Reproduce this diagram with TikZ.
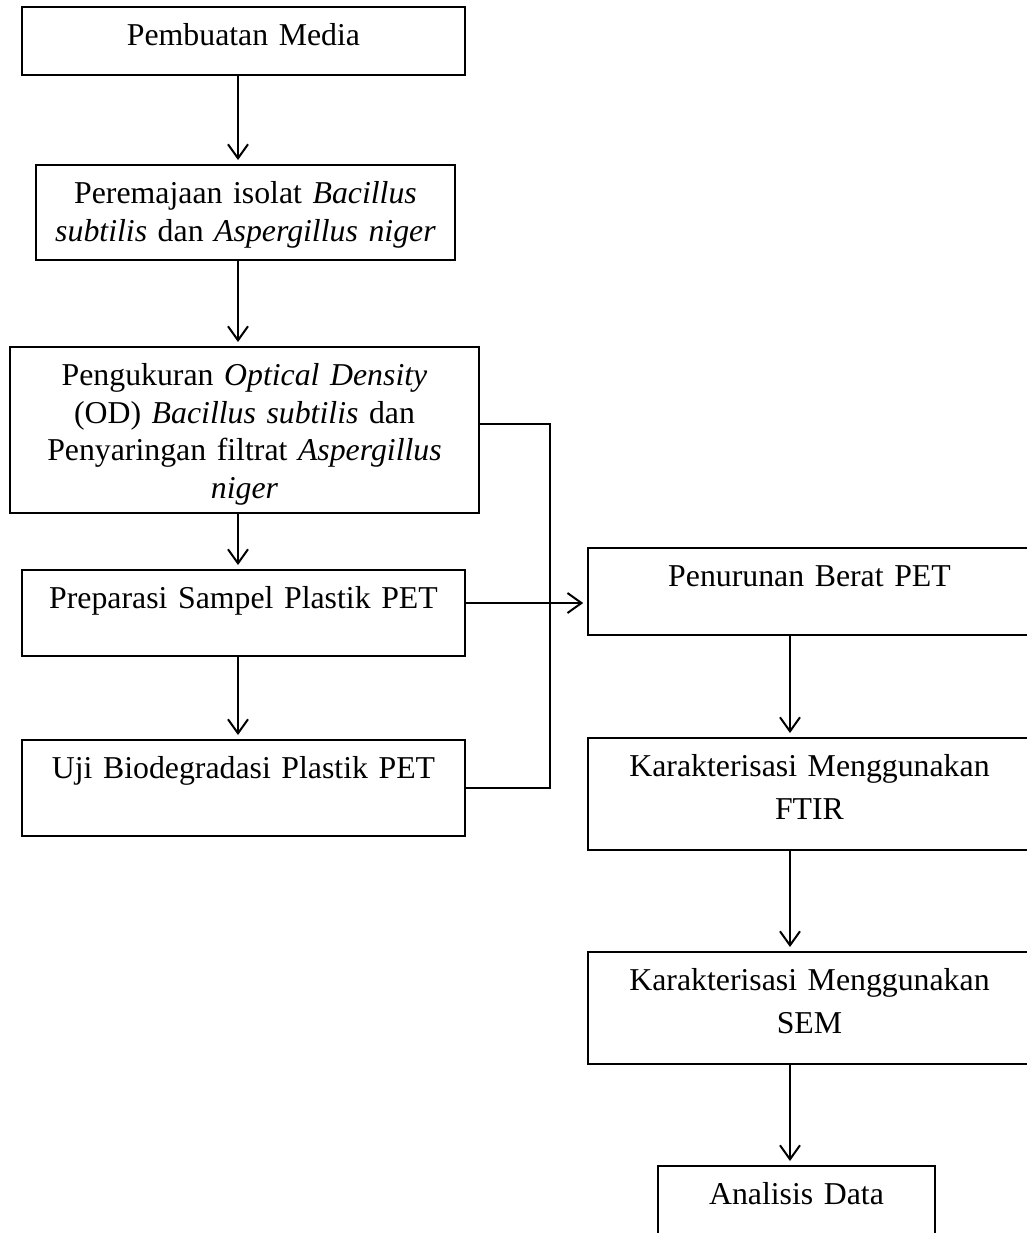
\documentclass[tikz,border=0pt]{standalone}
\usepackage{fontspec}
\setmainfont{Liberation Serif}
\usetikzlibrary{arrows.meta}
\newcommand\BoxTop{\rule{0pt}{19.5pt}}
\newcommand\BoxBot[1]{\rule[-#1]{0pt}{0pt}}
\begin{document}
\begin{tikzpicture}[x=0.5pt,y=-0.5pt,
  box/.style={draw, line width=0.8pt, inner xsep=0pt, inner ysep=0pt, align=center, anchor=north,
    font=\fontsize{15.9}{18.75}\selectfont},
  conn/.style={line width=1pt},
  arr/.style={line width=1pt, -{Straight Barb[length=7pt,width=10pt,line width=1pt]}, shorten >=2pt}]
\useasboundingbox (0,0) rectangle (1027,1233);
\clip (0,0) rectangle (1027,1233);

\node[box, text width=221.5pt] (b1) at (243.5,6) {\BoxTop Pembuatan Media\BoxBot{14.5pt}};
\node[box, text width=209.5pt] (b2) at (245.5,164) {\BoxTop Peremajaan isolat \textit{Bacillus}\\ \textit{subtilis} dan \textit{Aspergillus niger}\BoxBot{9.25pt}};
\node[box, text width=234.5pt] (b3) at (244.5,346) {\BoxTop Pengukuran \textit{Optical Density}\\ (OD) \textit{Bacillus subtilis} dan\\ Penyaringan filtrat \textit{Aspergillus}\\ \textit{niger}\BoxBot{7.25pt}};
\node[box, text width=221.5pt] (b4) at (243.5,569) {\BoxTop Preparasi Sampel Plastik PET\BoxBot{23.5pt}};
\node[box, text width=221.5pt] (b5) at (243.5,739) {\BoxTop Uji Biodegradasi Plastik PET\BoxBot{28.5pt}};

\node[box, text width=221.5pt] (b6) at (809.5,547) {\BoxTop Penurunan Berat PET\BoxBot{24pt}};
\node[box, text width=221.5pt] (b7) at (809.5,737) {\BoxTop Karakterisasi Menggunakan\\[2.75pt] FTIR\BoxBot{15pt}};
\node[box, text width=221.5pt] (b8) at (809.5,951) {\BoxTop Karakterisasi Menggunakan\\[2.75pt] SEM\BoxBot{15pt}};
\node[box, text width=138.5pt] (b9) at (796.5,1165) {\BoxTop Analisis Data\BoxBot{24pt}};

\coordinate (colL) at (238,0);
\coordinate (colR) at (790,0);
\coordinate (j1) at (550,424);
\coordinate (j2) at (550,788);
\coordinate (h1) at (0,603);

\draw[arr] (b1.south -| colL) -- (b2.north -| colL);
\draw[arr] (b2.south -| colL) -- (b3.north -| colL);
\draw[arr] (b3.south -| colL) -- (b4.north -| colL);
\draw[arr] (b4.south -| colL) -- (b5.north -| colL);

\draw[conn] (b3.east |- j1) -- (j1) -- (j2) -- (b5.east |- j2);
\draw[arr] (b4.east |- h1) -- (b6.west |- h1);

\draw[arr] (b6.south -| colR) -- (b7.north -| colR);
\draw[arr] (b7.south -| colR) -- (b8.north -| colR);
\draw[arr] (b8.south -| colR) -- (b9.north -| colR);
\end{tikzpicture}
\end{document}
